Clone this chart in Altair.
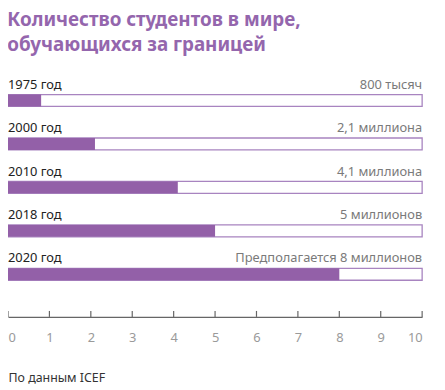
import altair as alt
import pandas as pd

years = ["1975 год", "2000 год", "2010 год", "2018 год", "2020 год"]
values = [0.8, 2.1, 4.1, 5, 8]
value_labels = ["800 тысяч", "2,1 миллиона", "4,1 миллиона", "5 миллионов", "Предполагается 8 миллионов"]
scale_max = 10
axis_ticks = list(range(0, 11))

PURPLE = "#9360a8"
OUTLINE = "#a884c0"
TITLE_COLOR = "#9466ad"
FONT = "Noto Sans"

df = pd.DataFrame({
    "row": list(range(len(years))),
    "year": years,
    "value": values,
    "label": value_labels,
    "zero": [0] * len(years),
    "max": [scale_max] * len(years),
})
ticks_df = pd.DataFrame({"t": axis_ticks})

H = 250
W = 418

xscale = alt.Scale(domain=[0, scale_max], nice=False, zero=True, padding=0)
yscale = alt.Scale(domain=[-0.72, 4.98], reverse=True, nice=False, zero=False, padding=0)

base = alt.Chart(df)

box = base.mark_bar(orient="horizontal", size=12, fill="white", stroke=OUTLINE, strokeWidth=1.3).encode(
    x=alt.X("zero:Q", scale=xscale, axis=alt.Axis(
        values=axis_ticks, tickSize=0, domainColor="#666666", domainWidth=1.2,
        labelColor="#9a9a9a", labelFontSize=13, labelFont=FONT, labelPadding=15,
        grid=False, title="По данным ICEF", titleAnchor="start", titleAlign="left",
        titleFont=FONT, titleFontSize=12.5, titleFontWeight="normal", titleColor="#333333",
        titlePadding=27, titleX=0,
    )),
    x2="max:Q",
    y=alt.Y("row:Q", scale=yscale, axis=None),
)

fill = base.mark_bar(orient="horizontal", size=12, color=PURPLE).encode(
    x=alt.X("zero:Q", scale=xscale),
    x2="value:Q",
    y=alt.Y("row:Q", scale=yscale),
)

left_text = base.mark_text(align="left", baseline="bottom", dy=-9, fontSize=13, font=FONT, color="#222222").encode(
    x=alt.X("zero:Q", scale=xscale),
    y=alt.Y("row:Q", scale=yscale),
    text="year:N",
)

right_text = base.mark_text(align="right", baseline="bottom", dy=-9, fontSize=13, font=FONT, color="#7a7a7a").encode(
    x=alt.X("max:Q", scale=xscale),
    y=alt.Y("row:Q", scale=yscale),
    text="label:N",
)

tick_rules = alt.Chart(ticks_df).mark_rule(color="#666666", strokeWidth=1.2).encode(
    x=alt.X("t:Q", scale=xscale),
    y=alt.value(H - 6),
    y2=alt.value(H),
)

chart = alt.layer(box, fill, left_text, right_text, tick_rules).properties(
    width=W,
    height=H,
    autosize=alt.AutoSizeParams(type="none"),
    padding={"left": 0, "top": 60, "right": 15, "bottom": 70},
    title=alt.Title(
        "Количество студентов в мире,",
        subtitle="обучающихся за границей",
        anchor="start", fontSize=19, fontWeight="bold", color=TITLE_COLOR, font=FONT,
        subtitleFontSize=19, subtitleFontWeight="bold", subtitleColor=TITLE_COLOR,
        subtitleFont=FONT, subtitlePadding=7, offset=14,
    ),
).configure_view(stroke=None)

chart.save("out.html", embed_options={"renderer": "svg", "actions": False})
